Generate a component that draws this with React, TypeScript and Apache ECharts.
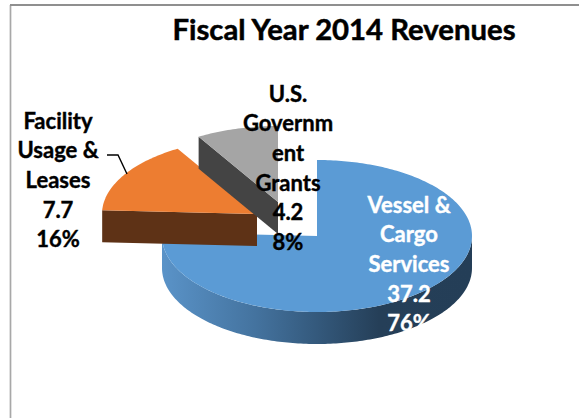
import React, { useEffect, useRef } from "react";
import * as echarts from "echarts";

const chartTitle = "Fiscal Year 2014 Revenues";
const categories = ["Vessel & Cargo Services", "Facility Usage & Leases", "U.S. Government Grants"];
const values = [37.2, 7.7, 4.2];
const percentLabels = ["76%", "16%", "8%"];
const labelLines = [
  ["Vessel &", "Cargo", "Services"],
  ["Facility", "Usage &", "Leases"],
  ["U.S.", "Governm", "ent", "Grants"],
];
const topColors = ["#5b9bd5", "#ed7d31", "#a5a5a5"];
const wallColors = ["#5e3216", "#5e3216", "#444444"];
const FONT = "Lato, Carlito, Calibri, sans-serif";

const RX = 155;
const RY = 76;
const DEPTH = 32;
const centers = [
  [317, 236],
  [257, 214],
  [278, 202],
];
const labelPos = [
  [409, 204, "#ffffff"],
  [58, 120, "#000000"],
  [288, 93, "#000000"],
];

function pt(c: number[], deg: number, dy = 0) {
  const a = (deg * Math.PI) / 180;
  return [c[0] + RX * Math.sin(a), c[1] - RY * Math.cos(a) + dy];
}
function arcPts(c: number[], a0: number, a1: number, dy = 0) {
  const out: number[][] = [];
  const n = Math.max(2, Math.ceil(Math.abs(a1 - a0)));
  for (let i = 0; i <= n; i++) out.push(pt(c, a0 + ((a1 - a0) * i) / n, dy));
  return out;
}

function buildOption() {
  const total = values.reduce((s, v) => s + v, 0);
  let acc = 0;
  const slices = values.map((v) => {
    const start = (acc / total) * 360;
    acc += v;
    return { start, end: (acc / total) * 360 };
  });

  return {
    animation: false,
    backgroundColor: "#ffffff",
    title: {
      text: chartTitle,
      left: 344,
      top: 14,
      padding: 0,
      textAlign: "center",
      textStyle: {
        fontFamily: FONT,
        fontWeight: "bold",
        fontSize: 29.3,
        color: "#000000",
        textBorderColor: "#000000",
        textBorderWidth: 0.5,
      },
    },
    graphic: [
      {
        type: "line",
        silent: true,
        shape: { x1: 10.5, y1: 419, x2: 10.5, y2: 5 },
        style: { stroke: "#a8a8a8", lineWidth: 1.7 },
      },
      {
        type: "line",
        silent: true,
        shape: { x1: 10, y1: 5, x2: 579, y2: 5 },
        style: { stroke: "#8f8f8f", lineWidth: 2 },
      },
    ],
    series: [
      {
        type: "custom",
        coordinateSystem: "none",
        silent: true,
        data: values.map((v, i) => ({ name: categories[i], value: v })),
        renderItem: (params: any) => {
          const i = params.dataIndex;
          const { start, end } = slices[i];
          const c = centers[i];
          const children: any[] = [];
          if (i === 0) {
            // outer curved wall: visible from the right edge (90°) to the left edge (270°)
            const top = arcPts(c, 90, 270);
            const bottom = arcPts(c, 270, 90, DEPTH);
            children.push({
              type: "polygon",
              shape: { points: [...top, ...bottom] },
              style: {
                fill: new echarts.graphic.LinearGradient(0, 0, 1, 0, [
                  { offset: 0, color: "#5a93c8" },
                  { offset: 0.3, color: "#44739f" },
                  { offset: 0.5, color: "#34597c" },
                  { offset: 0.7, color: "#253f58" },
                  { offset: 1, color: "#243e57" },
                ]),
              },
            });
          } else {
            // cut wall facing the viewer, running from the outer edge to the apex
            const p = pt(c, start);
            const pb = pt(c, start, DEPTH);
            children.push({
              type: "polygon",
              shape: { points: [p, c, [c[0], c[1] + DEPTH], pb] },
              style: { fill: wallColors[i] },
            });
          }
          children.push({
            type: "polygon",
            shape: { points: [c, ...arcPts(c, start, end)] },
            style: { fill: topColors[i] },
          });
          return { type: "group", children };
        },
        z: 2,
      },
      {
        type: "custom",
        coordinateSystem: "none",
        silent: true,
        data: values.map((v, i) => ({ name: categories[i], value: v })),
        renderItem: (params: any) => {
          const i = params.dataIndex;
          const [x, y, color] = labelPos[i];
          const lines = [...labelLines[i], String(values[i]), percentLabels[i]];
          return {
            type: "group",
            children: lines.map((t, k) => ({
              type: "text",
              style: {
                text: t,
                x: x as number,
                y: (y as number) + k * 29.7,
                align: "center",
                verticalAlign: "middle",
                font: `bold 22px ${FONT}`,
                fill: color as string,
                stroke: color as string,
                lineWidth: 0.4,
              },
            })),
          };
        },
        z: 4,
      },
      {
        type: "custom",
        coordinateSystem: "none",
        silent: true,
        data: [0],
        renderItem: () => ({
          type: "polyline",
          shape: { points: [[107, 155], [118, 155], [127, 174]] },
          style: { stroke: "#000000", lineWidth: 1.4, fill: "none" },
        }),
        z: 5,
      },
    ],
  };
}

export default function App() {
  const ref = useRef<HTMLDivElement>(null);
  useEffect(() => {
    document.body.style.margin = "0";
    const chart = echarts.init(ref.current!, undefined, { renderer: "svg" });
    chart.setOption(buildOption() as any);
    return () => chart.dispose();
  }, []);
  return <div ref={ref} style={{ width: 579, height: 418 }} />;
}
